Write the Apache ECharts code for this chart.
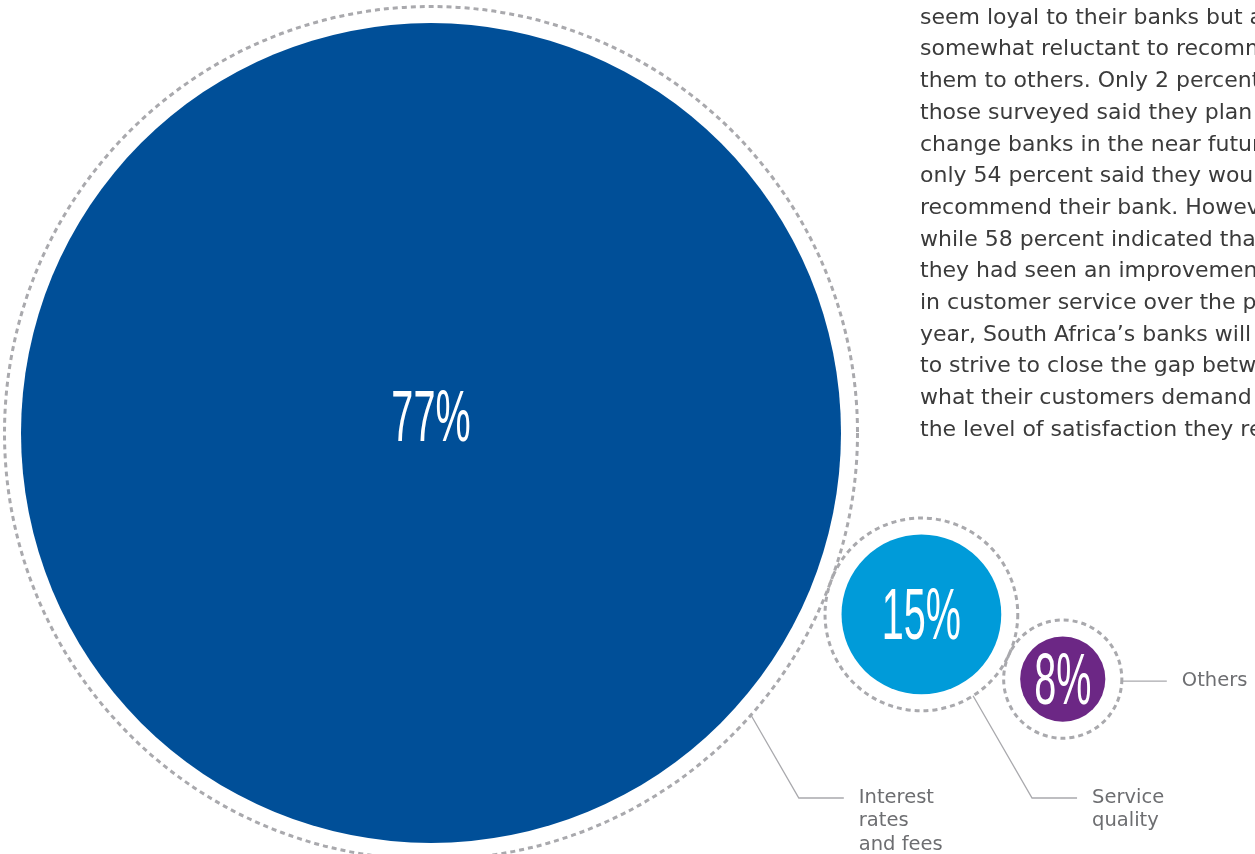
<!DOCTYPE html>
<html>
<head>
<meta charset="utf-8">
<script src="https://cdn.jsdelivr.net/npm/echarts@6/dist/echarts.min.js"></script>
<style>
  html, body { margin: 0; padding: 0; background: #ffffff; }
  #chart { width: 1255px; height: 854px; }
</style>
</head>
<body>
<div id="chart"></div>
<script>
// ---------------- DATA ----------------
const categories = ['Interest rates and fees', 'Service quality', 'Others'];
const shares = [77, 15, 8];
const labelLines = [['Interest', 'rates', 'and fees'], ['Service', 'quality'], ['Others']];
const colors = ['#004f98', '#009bd9', '#6c2785'];
const paragraphLines = [
  'seem loyal to their banks but are',
  'somewhat reluctant to recommend',
  'them to others. Only 2 percent of',
  'those surveyed said they plan to',
  'change banks in the near future, but',
  'only 54 percent said they would',
  'recommend their bank. However,',
  'while 58 percent indicated that',
  'they had seen an improvement',
  'in customer service over the past',
  'year, South Africa\u2019s banks will need',
  'to strive to close the gap between',
  'what their customers demand and',
  'the level of satisfaction they receive.'
];

// ---------------- LAYOUT (packed, tangent dashed rings) ----------------
const W = 1255, H = 854;
const PX_PER_PCT = 410 / 77;      // radius proportional to share
const RING_GAP = 16.5;
const ANCHOR = [431, 433];
const CHAIN_ANGLES = [20.3, 24.6]; // degrees below horizontal, between successive bubbles
const LEADER_ANGLES = [41.4, 57.6, 2];
const LABEL_DY = [-12, 5, 5];
const ELBOW_Y = 798;
const LEADER_SLOPE = 60;
const HLEN = 45, TEXT_GAP = 15;

const centers = [];
shares.forEach((v, i) => {
  if (i === 0) { centers.push(ANCHOR.slice()); return; }
  const prev = centers[i - 1];
  const d = shares[i - 1] * PX_PER_PCT + shares[i] * PX_PER_PCT + 2 * RING_GAP;
  const a = CHAIN_ANGLES[i - 1] * Math.PI / 180;
  centers.push([prev[0] + d * Math.cos(a), prev[1] + d * Math.sin(a)]);
});
const seriesData = shares.map((v, i) => ({ name: categories[i], value: [centers[i][0], centers[i][1], v, i] }));

const GRAY = '#a9a9ad';
const fontNum = '"Liberation Sans", Arial, sans-serif';
const fontText = '"DejaVu Sans", "Liberation Sans", sans-serif';

function renderItem(params, api) {
  const i = api.value(3);
  const c = api.coord([api.value(0), api.value(1)]);
  const r = api.size([api.value(2) * PX_PER_PCT, 0])[0];
  const rr = r + RING_GAP;
  const la = LEADER_ANGLES[i] * Math.PI / 180;
  const p0 = [c[0] + rr * Math.cos(la), c[1] + rr * Math.sin(la)];
  let pts;
  if (LEADER_ANGLES[i] > 10) {
    const s = LEADER_SLOPE * Math.PI / 180;
    const dy = ELBOW_Y - p0[1];
    const p1 = [p0[0] + dy / Math.tan(s), ELBOW_Y];
    pts = [p0, p1, [p1[0] + HLEN, ELBOW_Y]];
  } else {
    pts = [p0, [p0[0] + HLEN, p0[1]]];
  }
  const end = pts[pts.length - 1];
  return {
    type: 'group',
    children: [
      { type: 'circle', shape: { cx: c[0], cy: c[1], r: rr },
        style: { fill: 'none', stroke: GRAY, lineWidth: 3, lineDash: [5, 4] } },
      { type: 'circle', shape: { cx: c[0], cy: c[1], r: r },
        style: { fill: colors[i] } },
      { type: 'text', x: c[0], y: c[1] + LABEL_DY[i], scaleX: 0.55,
        style: { text: api.value(2) + '%', x: 0, y: 0, fill: '#ffffff',
                 font: 'normal 72px ' + fontNum, align: 'center', verticalAlign: 'middle' } },
      { type: 'polyline', shape: { points: pts },
        style: { fill: 'none', stroke: GRAY, lineWidth: 1.3 } },
      { type: 'text', x: end[0] + TEXT_GAP, y: end[1] - 12,
        style: { text: labelLines[i].join('\n'), fill: '#6d6e71',
                 font: 'normal 19.5px ' + fontText, lineHeight: 23.5,
                 align: 'left', verticalAlign: 'top' } }
    ]
  };
}

const chart = echarts.init(document.getElementById('chart'), null, { renderer: 'canvas' });
chart.setOption({
  animation: false,
  backgroundColor: '#ffffff',
  grid: { left: 0, top: 0, right: 0, bottom: 0 },
  xAxis: { type: 'value', min: 0, max: W, show: false },
  yAxis: { type: 'value', min: 0, max: H, inverse: true, show: false },
  graphic: [{
    type: 'text', left: 920, top: 18 - 31.7 / 2,
    style: { text: paragraphLines.join('\n'), fill: '#3b3b3b',
             font: 'normal 22px ' + fontText, lineHeight: 31.7 }
  }],
  series: [{
    type: 'custom',
    renderItem: renderItem,
    data: seriesData,
    clip: false
  }]
});
</script>
</body>
</html>
